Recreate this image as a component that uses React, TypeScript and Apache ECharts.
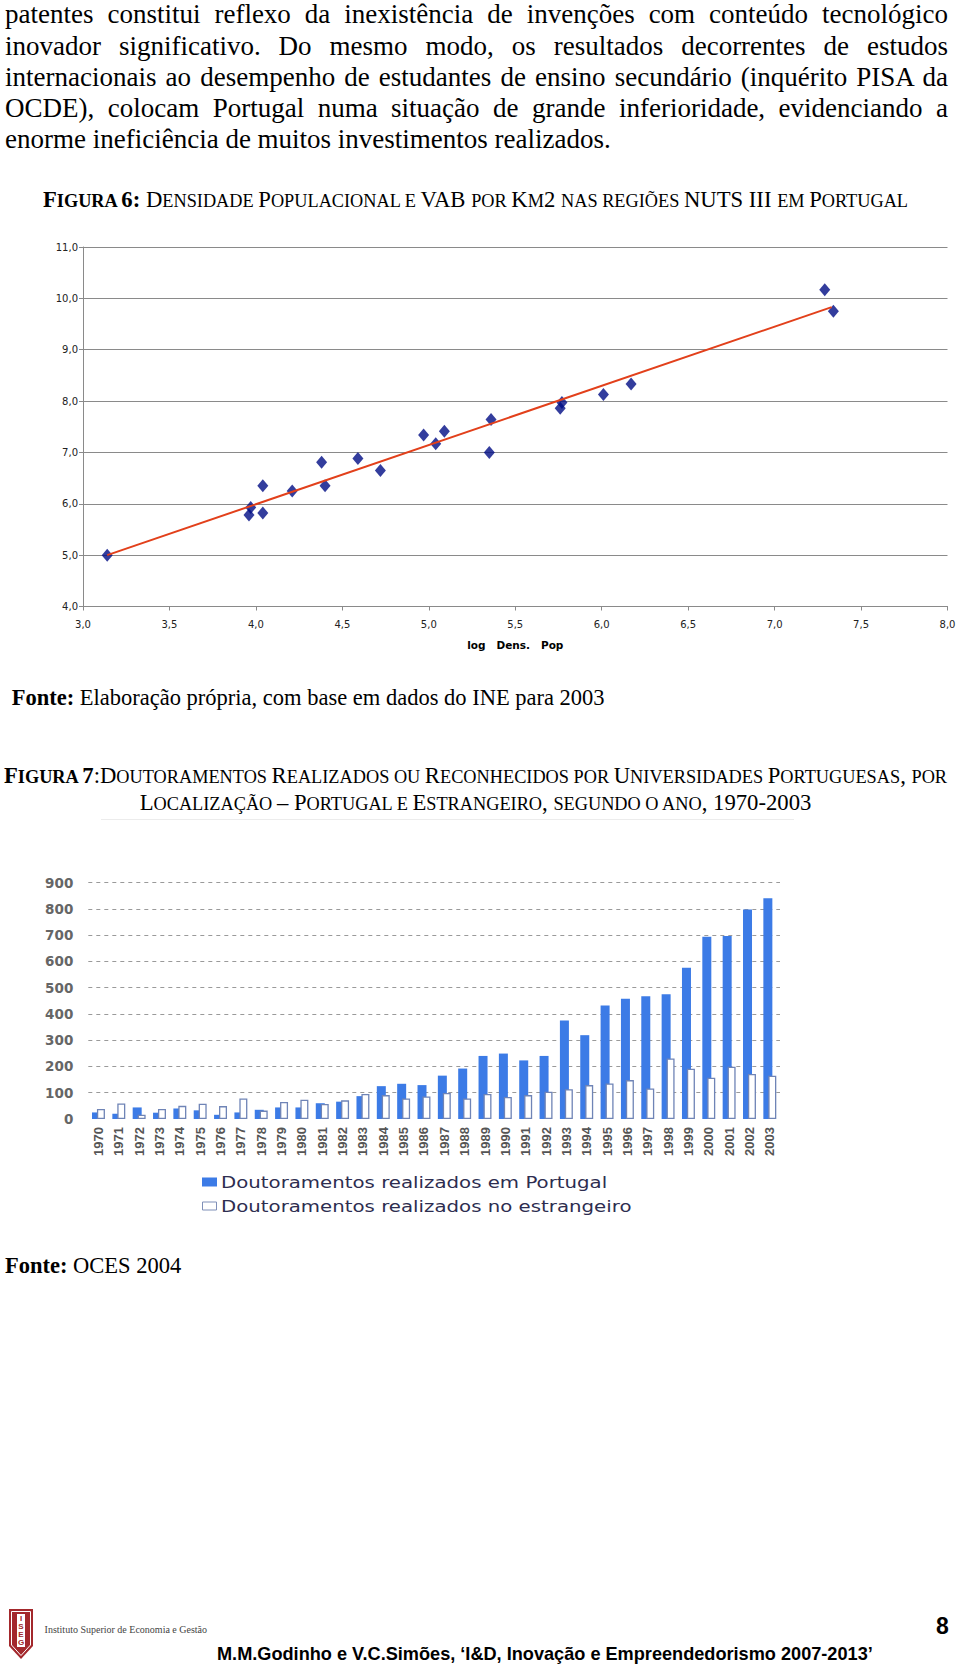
import React, { useEffect, useRef } from "react";
import * as echarts from "echarts";

// ---------- Page text ----------
const paragraphLines = [
  "patentes constitui reflexo da inexistência de invenções com conteúdo tecnológico",
  "inovador significativo. Do mesmo modo, os resultados decorrentes de estudos",
  "internacionais ao desempenho de estudantes de ensino secundário (inquérito PISA da",
  "OCDE), colocam Portugal numa situação de grande inferioridade, evidenciando a",
  "enorme ineficiência de muitos investimentos realizados.",
];
const paragraphTops = [-0.6, 31.2, 62, 92.8, 123.5];

const fig6Title = [
  { t: "Figura 6:", b: true },
  { t: " Densidade Populacional e VAB por Km2 nas regiões NUTS III em Portugal", b: false },
];
const fig7Line1 = [
  { t: "Figura 7", b: true },
  { t: ":Doutoramentos Realizados ou Reconhecidos por Universidades Portuguesas, por", b: false },
];
const fig7Line2 = [{ t: "Localização – Portugal e Estrangeiro, segundo o ano, 1970-2003", b: false }];

// ---------- Figure 6 data ----------
const scatterX = [3.14, 3.96, 3.97, 4.04, 4.04, 4.21, 4.38, 4.40, 4.59, 4.72, 4.97, 5.04, 5.09, 5.35, 5.36, 5.76, 5.77, 6.01, 6.17, 7.29, 7.34];
const scatterY = [5.00, 5.78, 5.93, 6.35, 5.82, 6.25, 6.81, 6.35, 6.88, 6.65, 7.34, 7.17, 7.41, 7.00, 7.64, 7.86, 7.97, 8.13, 8.33, 10.17, 9.75];
const trendX = [3.14, 7.33];
const trendY = [5.0, 9.83];
const xAxisName6 = "log   Dens.   Pop";

// ---------- Figure 7 data ----------
const years = [
  "1970", "1971", "1972", "1973", "1974", "1975", "1976", "1977", "1978", "1979",
  "1980", "1981", "1982", "1983", "1984", "1985", "1986", "1987", "1988", "1989",
  "1990", "1991", "1992", "1993", "1994", "1995", "1996", "1997", "1998", "1999",
  "2000", "2001", "2002", "2003",
];
const portugal = [25, 20, 44, 24, 40, 33, 16, 25, 35, 44, 44, 60, 66, 87, 125, 134, 129, 165, 192, 240, 249, 223, 240, 375, 319, 432, 458, 467, 475, 576, 694, 696, 797, 840];
const estrangeiro = [38, 59, 16, 38, 50, 58, 49, 78, 32, 65, 73, 57, 71, 95, 91, 78, 86, 99, 78, 95, 84, 91, 104, 113, 129, 135, 148, 116, 230, 191, 157, 199, 171, 165];
const seriesNames = ["Doutoramentos realizados em Portugal", "Doutoramentos realizados no estrangeiro"];

const BLUE = "#3c7be6";
const WHITE_BORDER = "#6f84b6";

function smallCapsRuns(text: string, big: number, small: number, bold: boolean, keyBase: string) {
  const runs: { t: string; s: boolean }[] = [];
  let cur = "";
  let curSmall: boolean | null = null;
  for (const ch of Array.from(text)) {
    const isLower = ch !== ch.toUpperCase();
    const cls = ch === " " ? (curSmall === null ? false : curSmall) : isLower;
    const out = isLower ? ch.toUpperCase() : ch;
    if (curSmall === null || cls === curSmall) {
      cur += out;
      curSmall = cls;
    } else {
      runs.push({ t: cur, s: curSmall });
      cur = out;
      curSmall = cls;
    }
  }
  if (cur) runs.push({ t: cur, s: !!curSmall });
  return runs.map((r, i) => (
    <span key={keyBase + i} style={{ fontSize: r.s ? small : big, fontWeight: bold ? "bold" : "normal" }}>
      {r.t}
    </span>
  ));
}

function Caption({ parts, center, big = 22.7, small = 18.3 }: { parts: { t: string; b: boolean }[]; center: number; big?: number; small?: number }) {
  return (
    <div
      style={{
        position: "absolute",
        left: 0,
        width: 951,
        top: center - 13,
        height: 26,
        lineHeight: "26px",
        textAlign: "center",
        whiteSpace: "nowrap",
        fontFamily: '"Liberation Serif", "Times New Roman", serif',
        color: "#000",
      }}
    >
      {parts.map((p, i) => smallCapsRuns(p.t, big, small, p.b, "p" + i + "_"))}
    </div>
  );
}

function Fonte({ rest, left, center }: { rest: string; left: number; center: number }) {
  return (
    <div
      style={{
        position: "absolute",
        left,
        top: center - 13,
        height: 26,
        lineHeight: "26px",
        whiteSpace: "nowrap",
        fontFamily: '"Liberation Serif", "Times New Roman", serif',
        fontSize: 22.5,
        color: "#000",
      }}
    >
      <b>Fonte:</b>
      {rest}
    </div>
  );
}

export default function App() {
  const ref6 = useRef<HTMLDivElement>(null);
  const ref7 = useRef<HTMLDivElement>(null);

  useEffect(() => {
    const fmt = (v: number) => v.toFixed(1).replace(".", ",");
    const axisGray = "#8a8a8a";
    const c6 = echarts.init(ref6.current!, null, { renderer: "svg" });
    c6.setOption({
      animation: false,
      grid: { left: 83, top: 27, width: 864.5, height: 359.5, outerBoundsMode: "none" },
      xAxis: {
        type: "value",
        min: 3,
        max: 8,
        interval: 0.5,
        axisLine: { show: true, lineStyle: { color: axisGray, width: 1 } },
        axisTick: { show: true, length: 4, lineStyle: { color: axisGray } },
        axisLabel: { formatter: fmt, color: "#222", fontSize: 10, fontFamily: "DejaVu Sans", margin: 13 },
        splitLine: { show: false },
        name: xAxisName6,
        nameLocation: "middle",
        nameGap: 33,
        nameTextStyle: { fontWeight: "bold", fontSize: 10.5, color: "#000", fontFamily: "DejaVu Sans" },
      },
      yAxis: {
        type: "value",
        min: 4,
        max: 11,
        interval: 1,
        axisLine: { show: true, lineStyle: { color: axisGray, width: 1 } },
        axisTick: { show: true, length: 4, lineStyle: { color: axisGray } },
        axisLabel: { formatter: fmt, color: "#222", fontSize: 10, fontFamily: "DejaVu Sans", margin: 5 },
        splitLine: { show: true, lineStyle: { color: axisGray, width: 1 } },
      },
      series: [
        {
          type: "scatter",
          data: scatterX.map((x, i) => [x, scatterY[i]]),
          symbol: "diamond",
          symbolSize: [11, 13],
          itemStyle: { color: "#000c84" },
          z: 2,
        },
        {
          type: "line",
          data: trendX.map((x, i) => [x, trendY[i]]),
          symbol: "none",
          lineStyle: { color: "#e2401b", width: 2 },
          z: 3,
        },
      ],
    });

    const c7 = echarts.init(ref7.current!, null, { renderer: "svg" });
    c7.setOption({
      animation: false,
      grid: { left: 88.3, top: 22.5, width: 691.7, height: 236.5, outerBoundsMode: "none" },
      xAxis: {
        type: "category",
        data: years,
        axisLine: { show: false },
        axisTick: { show: false },
        axisLabel: {
          rotate: 90,
          interval: 0,
          fontSize: 13,
          fontWeight: "bold",
          fontFamily: "Liberation Sans",
          color: "#555",
          margin: 8,
        },
      },
      yAxis: {
        type: "value",
        min: 0,
        max: 900,
        interval: 100,
        axisLine: { show: false },
        axisTick: { show: false },
        axisLabel: { fontSize: 13.5, fontWeight: "bold", fontFamily: "DejaVu Sans", color: "#666", margin: 15 },
        splitLine: { show: true, showMinLine: false, lineStyle: { type: [4, 4], color: "#9a9a9a", width: 1 } },
      },
      series: [
        {
          type: "bar",
          name: seriesNames[0],
          data: portugal,
          barWidth: 9,
          barGap: "-45%",
          itemStyle: { color: BLUE },
        },
        {
          type: "bar",
          name: seriesNames[1],
          data: estrangeiro,
          barWidth: 8,
          itemStyle: { color: "#ffffff", borderColor: WHITE_BORDER, borderWidth: 1.3 },
        },
      ],
      graphic: [
        { type: "rect", shape: { x: 202, y: 317.5, width: 15, height: 9 }, style: { fill: BLUE } },
        { type: "rect", shape: { x: 202.5, y: 342, width: 14, height: 8 }, style: { fill: "#fff", stroke: "#7f8fb8", lineWidth: 1 } },
        {
          type: "text",
          x: 221,
          y: 322,
          scaleX: 1.235,
          style: { text: seriesNames[0], fontSize: 16, fontFamily: "DejaVu Sans", fill: "#2d2d50", verticalAlign: "middle" },
        },
        {
          type: "text",
          x: 221,
          y: 346,
          scaleX: 1.235,
          style: { text: seriesNames[1], fontSize: 16, fontFamily: "DejaVu Sans", fill: "#2d2d50", verticalAlign: "middle" },
        },
      ],
    });

    return () => {
      c6.dispose();
      c7.dispose();
    };
  }, []);

  return (
    <div style={{ position: "absolute", left: 0, top: 0, width: 960, height: 1666, overflow: "hidden", background: "#fff" }}>
      {paragraphLines.map((line, i) => (
        <div
          key={"pl" + i}
          style={{
            position: "absolute",
            left: 5,
            top: paragraphTops[i],
            width: 943,
            height: 31,
            lineHeight: "31px",
            fontFamily: '"Liberation Serif", "Times New Roman", serif',
            fontSize: 27,
            color: "#000",
            textAlign: "justify",
            textAlignLast: i < paragraphLines.length - 1 ? "justify" : "left",
          }}
        >
          {line}
        </div>
      ))}

      <Caption parts={fig6Title} center={199.7} />
      <div ref={ref6} style={{ position: "absolute", left: 0, top: 220, width: 960, height: 440 }} />
      <Fonte rest=" Elaboração própria, com base em dados do INE para 2003" left={11.7} center={697.7} />

      <Caption parts={fig7Line1} center={776} />
      <Caption parts={fig7Line2} center={803} />
      <div style={{ position: "absolute", left: 101, top: 819, width: 693, height: 1, background: "#ececec" }} />
      <div ref={ref7} style={{ position: "absolute", left: 0, top: 860, width: 960, height: 380 }} />
      <Fonte rest=" OCES 2004" left={5} center={1266} />

      {/* Footer */}
      <svg style={{ position: "absolute", left: 8.5, top: 1609 }} width={24} height={50} viewBox="0 0 24 50">
        <path d="M0,0 H24 V37 L12,50 L0,37 Z" fill="#a3282c" />
        <path d="M2.5,2.5 H21.5 V36 L12,46.5 L2.5,36 Z" fill="none" stroke="#fff" strokeWidth={1} />
        <rect x={8} y={5} width={8} height={33} fill="#fff" />
        {["I", "S", "E", "G"].map((c, i) => (
          <text key={c} x={12} y={12 + i * 8} fontSize={8} fontWeight="bold" fontFamily="Liberation Sans" fill="#a3282c" textAnchor="middle">
            {c}
          </text>
        ))}
      </svg>
      <div
        style={{
          position: "absolute",
          left: 44.6,
          top: 1624,
          lineHeight: "12px",
          fontSize: 10,
          whiteSpace: "nowrap",
          fontFamily: '"Liberation Serif", serif',
          color: "#444",
        }}
      >
        Instituto Superior de Economia e Gestão
      </div>
      <div
        style={{
          position: "absolute",
          left: 936,
          top: 1612,
          lineHeight: "28px",
          fontSize: 23,
          fontWeight: "bold",
          fontFamily: '"Liberation Sans", Arial, sans-serif',
          color: "#000",
        }}
      >
        8
      </div>
      <div
        style={{
          position: "absolute",
          left: 216.6,
          top: 1642,
          lineHeight: "23px",
          fontSize: 19,
          fontWeight: "bold",
          whiteSpace: "nowrap",
          fontFamily: '"Liberation Sans", Arial, sans-serif',
          color: "#000",
          transform: "scaleX(0.955)",
          transformOrigin: "left center",
        }}
      >
        M.M.Godinho e V.C.Simões, ‘I&amp;D, Inovação e Empreendedorismo 2007-2013’
      </div>
    </div>
  );
}
